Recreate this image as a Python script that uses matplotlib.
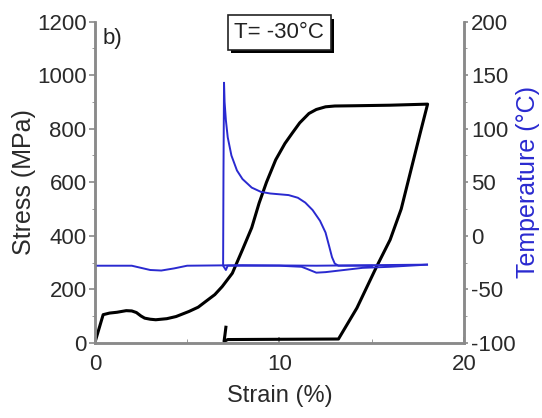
import numpy as np
import matplotlib.pyplot as plt
import matplotlib.patheffects as pe
from matplotlib.ticker import MultipleLocator

plt.rcParams['font.family'] = ['Liberation Sans', 'DejaVu Sans']
plt.rcParams['axes.unicode_minus'] = False

# Stress-strain loop (loading then unloading)
stress_strain = [0, 0.45, 0.8, 1.2, 1.7, 2.0, 2.25, 2.5, 2.7, 3.0, 3.3, 3.9, 4.4, 5.1,
                 5.6, 6.0, 6.5, 6.9, 7.45, 8.0, 8.5, 8.9, 9.3, 9.8, 10.3, 10.7,
                 11.1, 11.6, 12.0, 12.5, 13.0, 14.1, 16.0, 18.03,
                 17.63, 16.6, 16.0, 15.27, 14.2, 13.2, 10.0, 7.2, 7.0, 7.05, 7.1]
stress = [0, 105, 111, 114, 120, 119, 113, 100, 92, 88, 86, 90, 98, 117,
          133, 154, 180, 210, 260, 348, 430, 522, 600, 684, 745, 784,
          822, 857, 872, 882, 885, 886, 888, 892,
          784, 500, 385, 285, 130, 14, 13, 12, 5, 30, 58]

# Temperature trace, loading branch
temp_load_strain = [0, 2.0, 2.5, 3.0, 3.6, 4.3, 5.0, 8.0, 12.0, 15.0, 18.0]
temp_load = [-28, -28, -30, -32, -32.5, -30.5, -28, -27.5, -28, -27.5, -27]
# Temperature trace, unloading branch (cool-down, spike, relaxation)
temp_unload_strain = [18.0, 16.0, 14.5, 13.5, 12.5, 12.0, 11.5, 11.2, 10.0, 7.2, 7.1,
                      6.95, 6.97, 7.0, 7.03, 7.1, 7.2, 7.4, 7.7, 8.0, 8.5, 9.0, 9.5,
                      10.5, 11.0, 11.4, 11.8, 12.2, 12.5, 12.7, 12.85, 13.0, 13.2, 15.0]
temp_unload = [-27, -29, -30, -32, -34, -34.5, -31, -29, -28, -28, -32,
               -28, 60, 143, 125, 108, 92, 75, 61, 53, 45, 41, 39.5,
               38, 35.5, 31, 24, 14, 3, -10, -20, -26, -28, -28]

fig = plt.figure(figsize=(5.42, 4.18), dpi=100)
ax = fig.add_axes([0.175, 0.18, 0.681, 0.768])
ax2 = ax.twinx()

ax.plot(stress_strain, stress, color='black', lw=2.2)
ax2.plot(temp_load_strain, temp_load, color='#2a2ad0', lw=1.4)
ax2.plot(temp_unload_strain, temp_unload, color='#2a2ad0', lw=1.4)

ax.set_xlim(0, 20)
ax.set_ylim(0, 1200)
ax2.set_ylim(-100, 200)
ax.xaxis.set_major_locator(MultipleLocator(10))
ax.xaxis.set_minor_locator(MultipleLocator(5))
ax.yaxis.set_major_locator(MultipleLocator(200))
ax.yaxis.set_minor_locator(MultipleLocator(100))
ax2.yaxis.set_major_locator(MultipleLocator(50))
ax2.yaxis.set_minor_locator(MultipleLocator(25))

for a in (ax, ax2):
    a.spines['top'].set_visible(False)
    for s in ('left', 'right', 'bottom'):
        a.spines[s].set_color('#8a8a8a')
        a.spines[s].set_linewidth(1.8)
    a.tick_params(labelsize=16, colors='#8a8a8a', labelcolor='#2a2a2a', width=1.2)
ax.tick_params(axis='x', direction='in', length=4, pad=8)
ax.tick_params(axis='x', which='minor', direction='in', length=3, colors='#8a8a8a')
ax.tick_params(axis='y', direction='out', length=4, pad=2)
ax.tick_params(axis='y', which='minor', length=2, colors='#8a8a8a')
ax2.tick_params(axis='y', direction='out', length=3, pad=2)
ax2.tick_params(axis='y', which='minor', length=2, colors='#8a8a8a')

ax.set_xlabel('Strain (%)', fontsize=17, color='#2a2a2a', labelpad=7)
ax.set_ylabel('Stress (MPa)', fontsize=18, color='#2a2a2a', labelpad=1)
ax2.set_ylabel('Temperature (°C)', fontsize=18, color='#2a2ad0', labelpad=0)

ax.text(0.02, 0.93, 'b)', transform=ax.transAxes, fontsize=16, color='#222222')
t = ax.text(0.5, 0.966, 'T= -30°C', transform=ax.transAxes, fontsize=16,
            color='#222222', ha='center', va='center',
            bbox=dict(boxstyle='square,pad=0.3', fc='white', ec='#222222', lw=1.2))
t.get_bbox_patch().set_path_effects([
    pe.SimplePatchShadow(offset=(2.5, -2.5), shadow_rgbFace='black', alpha=1),
    pe.Normal()])

fig.savefig('out.png', dpi=100)
